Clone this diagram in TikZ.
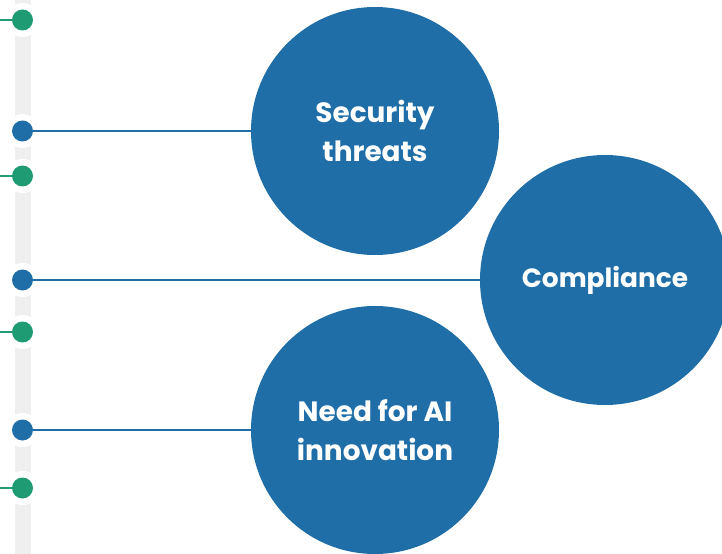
\documentclass[tikz,border=0pt]{standalone}
\usepackage{fontspec}
\setmainfont{Poppins}
\definecolor{cblue}{HTML}{1F6EA8}
\definecolor{cgreen}{HTML}{1E9B73}
\definecolor{cbar}{HTML}{EFEFEF}
\begin{document}
\begin{tikzpicture}[x=1bp,y=-1bp,
  topic/.style={circle,fill=cblue,minimum size=248bp,inner sep=0pt,text=white,font=\fontsize{28}{39}\selectfont\bfseries,align=center},
  halo/.style={circle,fill=white,minimum size=34bp,inner sep=0pt},
  bdot/.style={circle,fill=cblue,minimum size=21bp,inner sep=0pt},
  gdot/.style={circle,fill=cgreen,minimum size=21bp,inner sep=0pt},
  bline/.style={draw=cblue,line width=1.6bp},
  gline/.style={draw=cgreen,line width=1.6bp}]
\useasboundingbox (0,0) rectangle (722,554);
\begin{scope}
\clip (0,0) rectangle (722,554);
\fill[cbar] (15,0) rectangle (31,554);
\foreach \y in {20,131,176,280,332,430,488} \node[halo] at (22.5,\y) {};
\node[topic] (sec) at (375,131) {Security\\threats};
\node[topic,minimum size=250bp,font=\fontsize{26.5}{38}\selectfont\bfseries] (comp) at (605,280) {Compliance};
\node[topic] (ai) at (375,430) {Need for AI\\innovation};
\node[bdot] (b1) at (22.5,131) {};
\node[bdot] (b2) at (22.5,280) {};
\node[bdot] (b3) at (22.5,430) {};
\node[gdot] (g1) at (22.5,20) {};
\node[gdot] (g2) at (22.5,176) {};
\node[gdot] (g3) at (22.5,332) {};
\node[gdot] (g4) at (22.5,488) {};
\coordinate (e1) at (0,20);
\coordinate (e2) at (0,176);
\coordinate (e3) at (0,332);
\coordinate (e4) at (0,488);
\path[bline] (b1) -- (sec);
\path[bline] (b2) -- (comp);
\path[bline] (b3) -- (ai);
\path[gline] (e1) -- (g1);
\path[gline] (e2) -- (g2);
\path[gline] (e3) -- (g3);
\path[gline] (e4) -- (g4);
\end{scope}
\end{tikzpicture}
\end{document}
